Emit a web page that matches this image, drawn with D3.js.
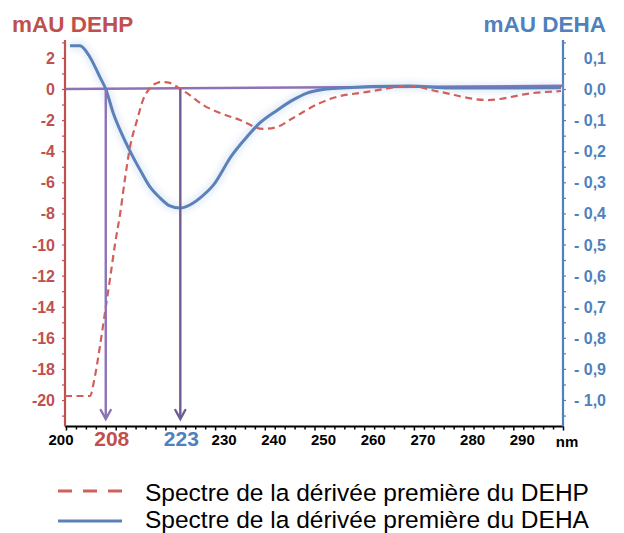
<!DOCTYPE html>
<html>
<head>
<meta charset="utf-8">
<script src="https://cdn.jsdelivr.net/npm/d3@7"></script>
<style>
  html, body { margin: 0; padding: 0; background: #fff; }
  svg { display: block; font-family: "Liberation Sans", Arial, sans-serif; }
</style>
</head>
<body>
<svg id="chart" width="624" height="533"></svg>
<script>
// First-derivative spectra (wavelength in nm)
const dehpWavelength = [199.8, 204.8, 205.8, 206.8, 207.6, 208.9, 209.9, 210.9, 211.9, 212.9, 214.3, 215.5, 216.9, 218.3, 219.5, 220.9, 222.9, 224.9, 227.6, 231.0, 235.0, 239.6, 242.5, 245.7, 251.1, 253.7, 260.6, 269.2, 275.3, 284.7, 294.0, 299.6];
const dehpValues     = [-19.74, -19.74, -18.5, -16.6, -14.9, -12.1, -9.9, -8.0, -5.7, -3.7, -2.0, -0.7, 0.06, 0.39, 0.45, 0.39, 0.02, -0.39, -1.03, -1.54, -1.99, -2.57, -2.44, -1.86, -0.90, -0.58, -0.19, 0.19, -0.19, -0.71, -0.26, -0.13];

const dehaWavelength = [200.8, 202.8, 204.8, 206.8, 208.0, 209.5, 211.5, 213.5, 214.9, 216.9, 218.9, 220.9, 222.9, 224.9, 227.0, 229.6, 233.3, 236.4, 239.0, 242.5, 245.7, 248.5, 251.1, 253.7, 269.2, 277.3, 287.3, 299.6];
const dehaValues     = [0.139, 0.139, 0.103, 0.039, 0.000, -0.077, -0.154, -0.219, -0.260, -0.315, -0.350, -0.376, -0.383, -0.373, -0.350, -0.310, -0.215, -0.154, -0.109, -0.068, -0.035, -0.013, -0.003, 0.002, 0.010, 0.003, 0.003, 0.004];

// Zero reference line (DEHP units) at 200 and 300 nm
const baselineWavelength = [200, 300];
const baselineValues = [0, 0.2];

// Marked wavelengths
const markers = [208, 223];

// Axis ticks
const xTicks = [200, 230, 240, 250, 260, 270, 280, 290];
const leftTicks = [2, 0, -2, -4, -6, -8, -10, -12, -14, -16, -18, -20];
const rightTicks = [0.1, 0.0, -0.1, -0.2, -0.3, -0.4, -0.5, -0.6, -0.7, -0.8, -0.9, -1.0];

const legendLabels = ["Spectre de la dérivée première du DEHP", "Spectre de la dérivée première du DEHA"];

const RED = "#c0504d", BLUE = "#4f81bd", PURPLE = "#8e72b8", PURPLE_DARK = "#6e5c92";

const svg = d3.select("#chart");

const x = d3.scaleLinear().domain([200, 300]).range([66, 563]);
const yL = d3.scaleLinear().domain([-21.7, 3.15]).range([426.5, 40]);
const yR = d3.scaleLinear().domain([-1.0852, 0.1576]).range([426.5, 40]);

const defs = svg.append("defs");
defs.append("filter").attr("id", "soft").attr("x", "-10%").attr("y", "-10%").attr("width", "120%").attr("height", "120%")
  .append("feGaussianBlur").attr("stdDeviation", 3);

// Axes
const xAxis = svg.append("g").attr("transform", "translate(0,426.5)");
xAxis.call(d3.axisBottom(x).tickValues(d3.range(200, 301, 2)).tickSize(3).tickFormat(""));
xAxis.call(g => g.selectAll(".tick line").attr("stroke", "#000").attr("stroke-width", 1.5)
  .attr("y2", d => d % 10 === 0 ? 4 : 3));
xAxis.select(".domain").attr("stroke", "#000").attr("stroke-width", 2.2).attr("d", `M${x(200) - 1},0H${x(300) + 1}`);

const leftAxis = svg.append("g").attr("transform", `translate(${x(200) - 1},0)`);
leftAxis.call(d3.axisLeft(yL).tickValues(d3.range(-21, 4, 1)).tickSize(3).tickFormat(""));
leftAxis.selectAll(".tick line").attr("stroke", RED).attr("stroke-width", 1.2);
leftAxis.select(".domain").attr("stroke", RED).attr("stroke-width", 2.2).attr("d", `M0,${yL.range()[1]}V${yL.range()[0]}`);

const rightAxis = svg.append("g").attr("transform", `translate(${x(300)},0)`);
rightAxis.call(d3.axisRight(yR).tickValues(d3.range(-21, 4, 1).map(v => v * 0.05)).tickSize(3).tickFormat(""));
rightAxis.selectAll(".tick line").attr("stroke", BLUE).attr("stroke-width", 1.2);
rightAxis.select(".domain").attr("stroke", BLUE).attr("stroke-width", 2.2).attr("d", `M0,${yR.range()[1]}V${yR.range()[0]}`);

// Tick labels
svg.append("g").selectAll("text").data(leftTicks).join("text")
  .attr("x", 55).attr("y", d => yL(d) + 6).attr("text-anchor", "end")
  .attr("font-size", 16).attr("font-weight", "bold").attr("fill", RED).text(d => d);

const fmtR = d => {
  const s = Math.abs(d).toFixed(1).replace(".", ",");
  return d < -1e-9 ? "- " + s : s;
};
svg.append("g").selectAll("text").data(rightTicks).join("text")
  .attr("x", 606).attr("y", d => yR(d) + 6).attr("text-anchor", "end")
  .attr("font-size", 16).attr("font-weight", "bold").attr("fill", BLUE).text(fmtR);

svg.append("g").selectAll("text").data(xTicks).join("text")
  .attr("x", d => d === 200 ? x(d) - 5 : x(d) + 9).attr("y", 445).attr("text-anchor", "middle")
  .attr("font-size", 15).attr("font-weight", "bold").attr("fill", "#000").text(d => d);
svg.append("text").attr("x", 567).attr("y", 447).attr("text-anchor", "middle")
  .attr("font-size", 15).attr("font-weight", "bold").text("nm");

svg.append("text").attr("x", x(markers[0]) + 6).attr("y", 446).attr("text-anchor", "middle")
  .attr("font-size", 21).attr("font-weight", "bold").attr("fill", RED).text(markers[0]);
svg.append("text").attr("x", x(markers[1]) + 1).attr("y", 446).attr("text-anchor", "middle")
  .attr("font-size", 21).attr("font-weight", "bold").attr("fill", BLUE).text(markers[1]);

// Axis titles
svg.append("text").attr("x", 12).attr("y", 32).attr("font-size", 22.5).attr("font-weight", "bold")
  .attr("fill", RED).text("mAU DEHP");
svg.append("text").attr("x", 606).attr("y", 32).attr("text-anchor", "end").attr("font-size", 22.5).attr("font-weight", "bold")
  .attr("fill", BLUE).text("mAU DEHA");

// Curves
const dehaPts = dehaWavelength.map((w, i) => [w, dehaValues[i]]);
const dehpPts = dehpWavelength.map((w, i) => [w, dehpValues[i]]);
const lineR = d3.line().x(d => x(d[0])).y(d => yR(d[1])).curve(d3.curveMonotoneX);
const lineL = d3.line().x(d => x(d[0])).y(d => yL(d[1])).curve(d3.curveMonotoneX);

svg.append("path").attr("d", lineR(dehaPts)).attr("fill", "none")
  .attr("stroke", "#d3e1f3").attr("stroke-width", 9).attr("filter", "url(#soft)").attr("opacity", 0.6);

// Zero line
svg.append("path").attr("d", lineL(baselineWavelength.map((w, i) => [w, baselineValues[i]])))
  .attr("fill", "none").attr("stroke", PURPLE).attr("stroke-width", 2.6);

svg.append("path").attr("d", lineR(dehaPts)).attr("fill", "none")
  .attr("stroke", "#5c80b8").attr("stroke-width", 3).attr("stroke-linejoin", "round");

svg.append("path").attr("d", lineL(dehpPts)).attr("fill", "none")
  .attr("stroke", "#d2605a").attr("stroke-width", 2.2).attr("stroke-dasharray", "7,4.5");

// Marker arrows
const tipY = 419;
[[markers[0], PURPLE], [markers[1], PURPLE_DARK]].forEach(([m, c]) => {
  const g = svg.append("g").attr("stroke", c).attr("stroke-width", 2.4).attr("fill", "none");
  g.append("line").attr("x1", x(m)).attr("x2", x(m)).attr("y1", yL(0)).attr("y2", tipY);
  g.append("path").attr("d", `M${x(m) - 5},${tipY - 9}L${x(m)},${tipY}L${x(m) + 5},${tipY - 9}`)
    .attr("stroke-linejoin", "miter").attr("stroke-linecap", "round");
});

// Legend
const legend = svg.append("g");
legend.append("line").attr("x1", 58).attr("x2", 122).attr("y1", 491).attr("y2", 491)
  .attr("stroke", "#d2605a").attr("stroke-width", 3).attr("stroke-dasharray", "14,11");
legend.append("line").attr("x1", 58).attr("x2", 122).attr("y1", 521).attr("y2", 521)
  .attr("stroke", "#5c80b8").attr("stroke-width", 3.2);
legend.selectAll("text").data(legendLabels).join("text")
  .attr("x", 145).attr("y", (d, i) => 501 + i * 26.5)
  .attr("font-size", 24.5).attr("fill", "#000").text(d => d);
</script>
</body>
</html>
